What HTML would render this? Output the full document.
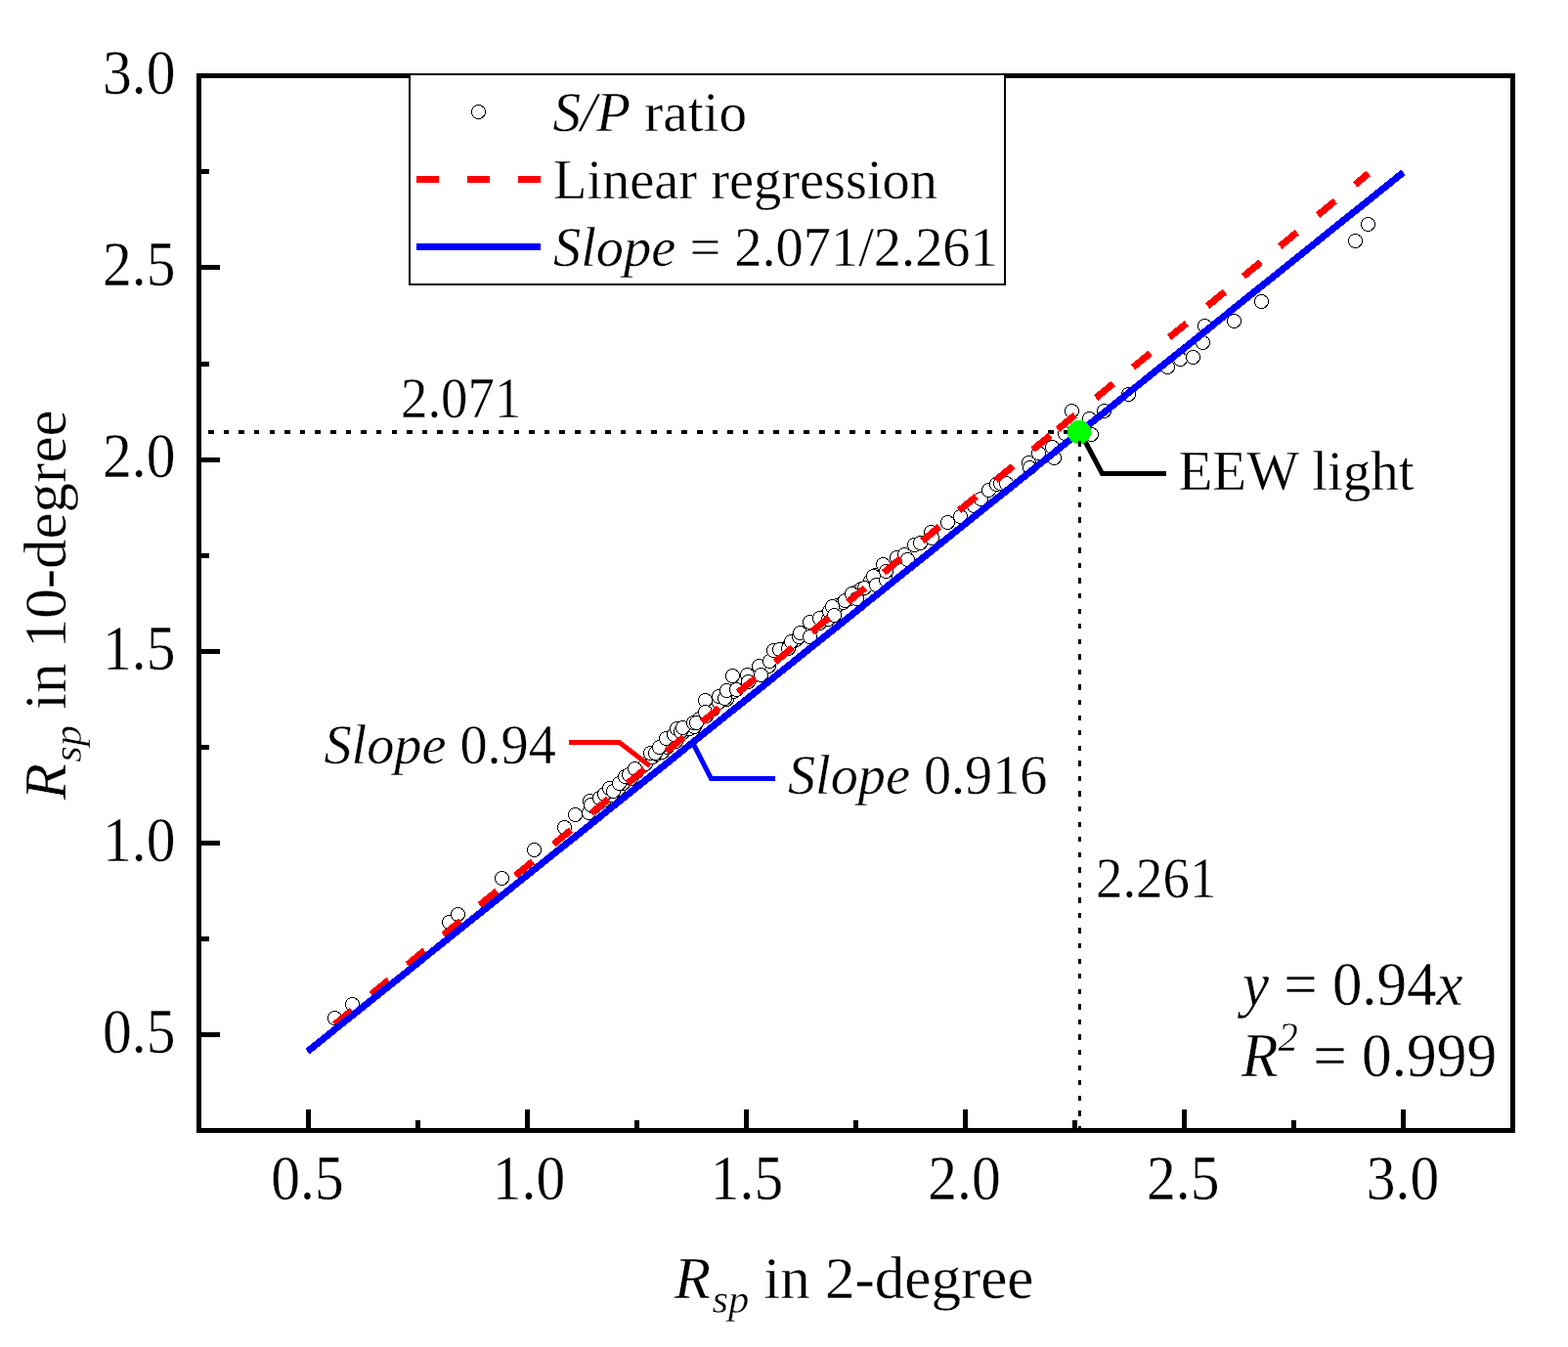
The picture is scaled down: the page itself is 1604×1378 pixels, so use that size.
<!DOCTYPE html>
<html lang="en"><head><meta charset="utf-8"><title>Rsp in 10-degree vs Rsp in 2-degree</title>
<style>
html,body{margin:0;padding:0;background:#fff;}
body{width:1604px;height:1378px;overflow:hidden;}
svg{display:block;}
text{font-family:"Liberation Serif","DejaVu Serif",serif;fill:#000;stroke:#fff;stroke-width:0.35px;}
.t{font-size:62px;}
.a{font-size:61px;}
.i{font-style:italic;}
.l{font-size:56.4px;}
.n{font-size:56.2px;}
</style></head><body>
<svg width="1604" height="1378" viewBox="0 0 1604 1378">
<rect x="0" y="0" width="1604" height="1378" fill="#fff"/>
<g shape-rendering="crispEdges" fill="#000">
<rect x="201" y="75" width="1349" height="5"/>
<rect x="201" y="1154" width="1349" height="5"/>
<rect x="201" y="75" width="5" height="1084"/>
<rect x="1545" y="75" width="5" height="1084"/>
<rect x="313" y="1135" width="5" height="19"/>
<rect x="425" y="1146" width="5" height="8"/>
<rect x="537" y="1135" width="5" height="19"/>
<rect x="649" y="1146" width="5" height="8"/>
<rect x="761" y="1135" width="5" height="19"/>
<rect x="873" y="1146" width="5" height="8"/>
<rect x="985" y="1135" width="5" height="19"/>
<rect x="1097" y="1146" width="5" height="8"/>
<rect x="1209" y="1135" width="5" height="19"/>
<rect x="1321" y="1146" width="5" height="8"/>
<rect x="1433" y="1135" width="5" height="19"/>
<rect x="206" y="1056" width="19" height="5"/>
<rect x="206" y="958" width="8" height="5"/>
<rect x="206" y="860" width="19" height="5"/>
<rect x="206" y="762" width="8" height="5"/>
<rect x="206" y="664" width="19" height="5"/>
<rect x="206" y="566" width="8" height="5"/>
<rect x="206" y="468" width="19" height="5"/>
<rect x="206" y="370" width="8" height="5"/>
<rect x="206" y="271" width="19" height="5"/>
<rect x="206" y="173" width="8" height="5"/>
</g>
<g fill="#fff" stroke="#000" stroke-width="1" shape-rendering="crispEdges">
<circle cx="602.5" cy="831.5" r="7"/>
<circle cx="607.5" cy="825.5" r="7"/>
<circle cx="612.5" cy="821.5" r="7"/>
<circle cx="618.5" cy="818.5" r="7"/>
<circle cx="625.5" cy="813.5" r="7"/>
<circle cx="632.5" cy="807.5" r="7"/>
<circle cx="637.5" cy="801.5" r="7"/>
<circle cx="645.5" cy="796.5" r="7"/>
<circle cx="651.5" cy="789.5" r="7"/>
<circle cx="660.5" cy="781.5" r="7"/>
<circle cx="667.5" cy="774.5" r="7"/>
<circle cx="671.5" cy="771.5" r="7"/>
<circle cx="677.5" cy="769.5" r="7"/>
<circle cx="682.5" cy="764.5" r="7"/>
<circle cx="691.5" cy="758.5" r="7"/>
<circle cx="698.5" cy="749.5" r="7"/>
<circle cx="705.5" cy="745.5" r="7"/>
<circle cx="710.5" cy="743.5" r="7"/>
<circle cx="715.5" cy="735.5" r="7"/>
<circle cx="722.5" cy="732.5" r="7"/>
<circle cx="729.5" cy="725.5" r="7"/>
<circle cx="735.5" cy="718.5" r="7"/>
<circle cx="743.5" cy="715.5" r="7"/>
<circle cx="750.5" cy="707.5" r="7"/>
<circle cx="759.5" cy="699.5" r="7"/>
<circle cx="765.5" cy="693.5" r="7"/>
<circle cx="770.5" cy="691.5" r="7"/>
<circle cx="779.5" cy="686.5" r="7"/>
<circle cx="786.5" cy="681.5" r="7"/>
<circle cx="793.5" cy="670.5" r="7"/>
<circle cx="801.5" cy="664.5" r="7"/>
<circle cx="807.5" cy="660.5" r="7"/>
<circle cx="814.5" cy="654.5" r="7"/>
<circle cx="821.5" cy="647.5" r="7"/>
<circle cx="830.5" cy="642.5" r="7"/>
<circle cx="838.5" cy="637.5" r="7"/>
<circle cx="846.5" cy="628.5" r="7"/>
<circle cx="856.5" cy="619.5" r="7"/>
<circle cx="862.5" cy="616.5" r="7"/>
<circle cx="869.5" cy="612.5" r="7"/>
<circle cx="876.5" cy="605.5" r="7"/>
<circle cx="881.5" cy="602.5" r="7"/>
<circle cx="890.5" cy="594.5" r="7"/>
<circle cx="895.5" cy="588.5" r="7"/>
<circle cx="904.5" cy="587.5" r="7"/>
<circle cx="342.5" cy="1041.5" r="7"/>
<circle cx="360.5" cy="1027.5" r="7"/>
<circle cx="459.5" cy="943.5" r="7"/>
<circle cx="468.5" cy="935.5" r="7"/>
<circle cx="513.5" cy="898.5" r="7"/>
<circle cx="546.5" cy="869.5" r="7"/>
<circle cx="577.5" cy="846.5" r="7"/>
<circle cx="588.5" cy="833.5" r="7"/>
<circle cx="603.5" cy="819.5" r="7"/>
<circle cx="604.5" cy="823.5" r="7"/>
<circle cx="613.5" cy="816.5" r="7"/>
<circle cx="618.5" cy="812.5" r="7"/>
<circle cx="623.5" cy="806.5" r="7"/>
<circle cx="627.5" cy="809.5" r="7"/>
<circle cx="633.5" cy="801.5" r="7"/>
<circle cx="639.5" cy="794.5" r="7"/>
<circle cx="643.5" cy="792.5" r="7"/>
<circle cx="649.5" cy="786.5" r="7"/>
<circle cx="665.5" cy="770.5" r="7"/>
<circle cx="670.5" cy="770.5" r="7"/>
<circle cx="674.5" cy="764.5" r="7"/>
<circle cx="681.5" cy="755.5" r="7"/>
<circle cx="689.5" cy="751.5" r="7"/>
<circle cx="692.5" cy="745.5" r="7"/>
<circle cx="696.5" cy="748.5" r="7"/>
<circle cx="698.5" cy="744.5" r="7"/>
<circle cx="709.5" cy="739.5" r="7"/>
<circle cx="712.5" cy="739.5" r="7"/>
<circle cx="721.5" cy="716.5" r="7"/>
<circle cx="721.5" cy="728.5" r="7"/>
<circle cx="735.5" cy="712.5" r="7"/>
<circle cx="741.5" cy="714.5" r="7"/>
<circle cx="743.5" cy="706.5" r="7"/>
<circle cx="749.5" cy="691.5" r="7"/>
<circle cx="753.5" cy="705.5" r="7"/>
<circle cx="764.5" cy="690.5" r="7"/>
<circle cx="765.5" cy="697.5" r="7"/>
<circle cx="776.5" cy="681.5" r="7"/>
<circle cx="778.5" cy="690.5" r="7"/>
<circle cx="787.5" cy="676.5" r="7"/>
<circle cx="791.5" cy="665.5" r="7"/>
<circle cx="797.5" cy="664.5" r="7"/>
<circle cx="806.5" cy="663.5" r="7"/>
<circle cx="809.5" cy="656.5" r="7"/>
<circle cx="817.5" cy="651.5" r="7"/>
<circle cx="818.5" cy="647.5" r="7"/>
<circle cx="828.5" cy="636.5" r="7"/>
<circle cx="828.5" cy="651.5" r="7"/>
<circle cx="838.5" cy="632.5" r="7"/>
<circle cx="847.5" cy="633.5" r="7"/>
<circle cx="848.5" cy="625.5" r="7"/>
<circle cx="851.5" cy="620.5" r="7"/>
<circle cx="853.5" cy="629.5" r="7"/>
<circle cx="864.5" cy="614.5" r="7"/>
<circle cx="871.5" cy="607.5" r="7"/>
<circle cx="876.5" cy="612.5" r="7"/>
<circle cx="884.5" cy="601.5" r="7"/>
<circle cx="893.5" cy="589.5" r="7"/>
<circle cx="896.5" cy="598.5" r="7"/>
<circle cx="906.5" cy="584.5" r="7"/>
<circle cx="906.5" cy="593.5" r="7"/>
<circle cx="903.5" cy="577.5" r="7"/>
<circle cx="906.5" cy="584.5" r="7"/>
<circle cx="917.5" cy="570.5" r="7"/>
<circle cx="925.5" cy="567.5" r="7"/>
<circle cx="928.5" cy="572.5" r="7"/>
<circle cx="935.5" cy="557.5" r="7"/>
<circle cx="941.5" cy="555.5" r="7"/>
<circle cx="952.5" cy="544.5" r="7"/>
<circle cx="953.5" cy="550.5" r="7"/>
<circle cx="969.5" cy="534.5" r="7"/>
<circle cx="982.5" cy="528.5" r="7"/>
<circle cx="996.5" cy="517.5" r="7"/>
<circle cx="1003.5" cy="510.5" r="7"/>
<circle cx="1011.5" cy="501.5" r="7"/>
<circle cx="1019.5" cy="495.5" r="7"/>
<circle cx="1023.5" cy="494.5" r="7"/>
<circle cx="1029.5" cy="494.5" r="7"/>
<circle cx="1052.5" cy="473.5" r="7"/>
<circle cx="1053.5" cy="478.5" r="7"/>
<circle cx="1062.5" cy="463.5" r="7"/>
<circle cx="1076.5" cy="457.5" r="7"/>
<circle cx="1078.5" cy="468.5" r="7"/>
<circle cx="1089.5" cy="443.5" r="7"/>
<circle cx="1096.5" cy="420.5" r="7"/>
<circle cx="1114.5" cy="428.5" r="7"/>
<circle cx="1116.5" cy="444.5" r="7"/>
<circle cx="1129.5" cy="420.5" r="7"/>
<circle cx="1154.5" cy="403.5" r="7"/>
<circle cx="1194.5" cy="375.5" r="7"/>
<circle cx="1207.5" cy="367.5" r="7"/>
<circle cx="1220.5" cy="365.5" r="7"/>
<circle cx="1230.5" cy="350.5" r="7"/>
<circle cx="1232.5" cy="333.5" r="7"/>
<circle cx="1262.5" cy="328.5" r="7"/>
<circle cx="1290.5" cy="308.5" r="7"/>
<circle cx="1399.5" cy="229.5" r="7"/>
<circle cx="1386.5" cy="246.5" r="7"/>
</g>
<g shape-rendering="crispEdges" stroke="#000" fill="none">
<line x1="213.1" y1="442" x2="1100" y2="442" stroke-width="4" stroke-dasharray="5.4 10.225"/>
</g>
<g stroke="#f00" stroke-width="7" fill="none" shape-rendering="crispEdges">
<line x1="342.4" y1="1048.0" x2="360.0" y2="1033.6"/>
<line x1="379.9" y1="1017.2" x2="397.5" y2="1002.7"/>
<line x1="416.7" y1="986.9" x2="434.3" y2="972.4"/>
<line x1="453.5" y1="956.6" x2="471.1" y2="942.1"/>
<line x1="490.7" y1="925.9" x2="508.3" y2="911.5"/>
<line x1="527.4" y1="895.7" x2="545.0" y2="881.3"/>
<line x1="566.4" y1="863.6" x2="584.0" y2="849.2"/>
<line x1="604.8" y1="832.0" x2="622.4" y2="817.6"/>
<line x1="642.0" y1="801.4" x2="659.6" y2="786.9"/>
<line x1="681.6" y1="768.8" x2="699.2" y2="754.3"/>
<line x1="718.1" y1="738.7" x2="735.7" y2="724.3"/>
<line x1="755.1" y1="708.3" x2="772.7" y2="693.8"/>
<line x1="793.0" y1="677.1" x2="810.6" y2="662.6"/>
<line x1="830.4" y1="646.3" x2="848.0" y2="631.8"/>
<line x1="867.3" y1="615.9" x2="884.9" y2="601.5"/>
<line x1="904.0" y1="585.7" x2="921.6" y2="571.2"/>
<line x1="943.4" y1="553.3" x2="961.0" y2="538.8"/>
<line x1="981.1" y1="522.2" x2="998.7" y2="507.8"/>
<line x1="1018.6" y1="491.3" x2="1036.2" y2="476.9"/>
<line x1="1056.7" y1="460.0" x2="1074.3" y2="445.5"/>
<line x1="1082.0" y1="439.2" x2="1099.6" y2="424.7"/>
<line x1="1121.1" y1="407.0" x2="1138.7" y2="392.5"/>
<line x1="1159.0" y1="375.8" x2="1176.6" y2="361.3"/>
<line x1="1196.1" y1="345.2" x2="1213.7" y2="330.8"/>
<line x1="1235.2" y1="313.0" x2="1252.8" y2="298.6"/>
<line x1="1272.0" y1="282.7" x2="1289.6" y2="268.3"/>
<line x1="1309.2" y1="252.1" x2="1326.8" y2="237.7"/>
<line x1="1348.1" y1="220.1" x2="1365.7" y2="205.6"/>
<line x1="1386.1" y1="188.8" x2="1399.8" y2="177.5"/>
</g>
<line x1="314.55" y1="1075.65" x2="1435.5" y2="176.4" stroke="#00f" stroke-width="7" fill="none" shape-rendering="crispEdges"/>
<text class="t" text-anchor="middle" transform="translate(314.5 1227) scale(0.96 1.04)">0.5</text>
<text class="t" text-anchor="middle" transform="translate(541.0 1227) scale(0.96 1.04)">1.0</text>
<text class="t" text-anchor="middle" transform="translate(764.0 1227) scale(0.96 1.04)">1.5</text>
<text class="t" text-anchor="middle" transform="translate(986.5 1227) scale(0.96 1.04)">2.0</text>
<text class="t" text-anchor="middle" transform="translate(1210.3 1227) scale(0.96 1.04)">2.5</text>
<text class="t" text-anchor="middle" transform="translate(1435.0 1227) scale(0.96 1.04)">3.0</text>
<text class="t" text-anchor="end" transform="translate(179.5 1076.8) scale(0.96 1.04)">0.5</text>
<text class="t" text-anchor="end" transform="translate(179.5 880.7) scale(0.96 1.04)">1.0</text>
<text class="t" text-anchor="end" transform="translate(179.5 684.5) scale(0.96 1.04)">1.5</text>
<text class="t" text-anchor="end" transform="translate(179.5 488.4) scale(0.96 1.04)">2.0</text>
<text class="t" text-anchor="end" transform="translate(179.5 292.2) scale(0.96 1.04)">2.5</text>
<text class="t" text-anchor="end" transform="translate(179.5 96.1) scale(0.96 1.04)">3.0</text>
<text class="a" transform="translate(689.8 1327.8)"><tspan class="i" x="0" y="0">R</tspan><tspan class="i" font-size="42.5" x="38.6" y="15.5">sp </tspan><tspan x="91.5" y="0">in 2-degree</tspan></text>
<text class="a" transform="translate(67.3 818.3) rotate(-90)"><tspan class="i" x="0" y="0">R</tspan><tspan class="i" font-size="42.5" x="38.6" y="15.5">sp </tspan><tspan x="92.3" y="0">in 10-degree</tspan></text>
<g shape-rendering="crispEdges"><rect x="419" y="76" width="609" height="215" fill="#fff" stroke="#000" stroke-width="2"/>
<rect x="426" y="180" width="23" height="7" fill="#f00"/><rect x="478" y="180" width="23" height="7" fill="#f00"/><rect x="530" y="180" width="23" height="7" fill="#f00"/>
<rect x="426" y="249" width="127" height="7" fill="#00f"/>
<circle cx="489.5" cy="114.5" r="7" fill="#fff" stroke="#000" stroke-width="1"/></g>
<text class="l" style="font-size:57.2px" x="565.5" y="133.8"><tspan class="i">S/P</tspan> ratio</text>
<text class="l" x="566" y="203">Linear regression</text>
<text class="l" x="566" y="272"><tspan class="i">Slope</tspan> = 2.071/2.261</text>
<text class="n" transform="translate(410 426.8) scale(0.975 1.035)">2.071</text>
<text class="n" transform="translate(1121 917.8) scale(0.975 1.035)">2.261</text>
<text class="n" style="font-size:57px" x="1205.5" y="501">EEW light</text>
<text class="n" x="331.5" y="781"><tspan class="i">Slope</tspan> 0.94</text>
<text class="n" x="806" y="812"><tspan class="i">Slope</tspan> 0.916</text>
<text class="t" transform="translate(1271 1027.6) scale(0.983 1.035)"><tspan class="i">y</tspan> = 0.94<tspan class="i">x</tspan></text>
<text class="t" transform="translate(1270 1100.5) scale(0.99 1.035)"><tspan class="i">R</tspan><tspan class="i" font-size="41" dy="-25">2</tspan><tspan dy="25"> = 0.999</tspan></text>
<g fill="none" stroke-width="5" stroke-linejoin="miter">
<polyline points="582,759.5 633.6,759.5 664.8,783.6" stroke="#f00"/>
<polyline points="709.3,761 727.4,796.5 793,796.5" stroke="#00f"/>
<polyline points="1105,442 1127.5,484.5 1193,484.5" stroke="#000"/>
</g>
<circle cx="1104" cy="442" r="12.1" fill="#0f0" shape-rendering="crispEdges"/>
<line x1="1104.5" y1="451.4" x2="1104.5" y2="1154" stroke="#000" stroke-width="3" stroke-dasharray="5.3 10.265" shape-rendering="crispEdges"/>
</svg></body></html>
